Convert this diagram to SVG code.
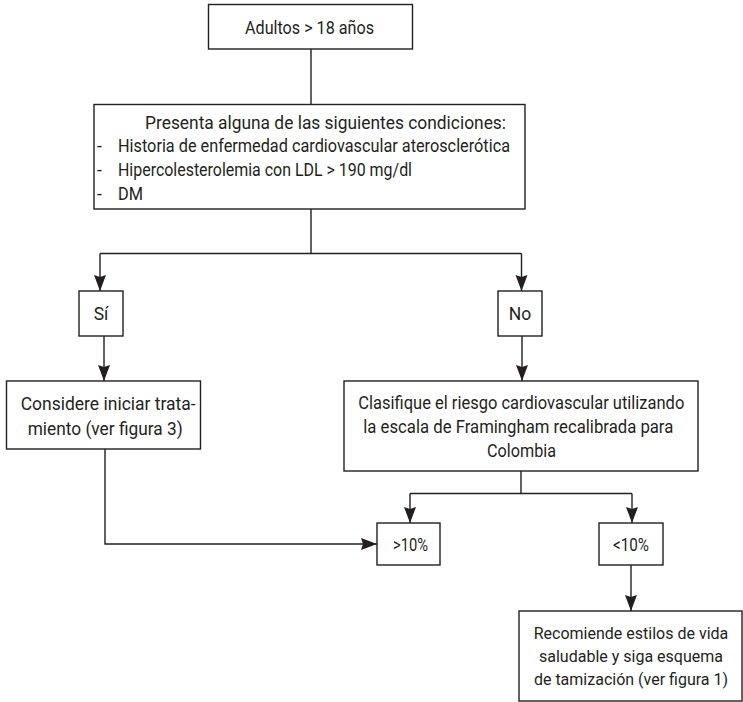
<svg xmlns="http://www.w3.org/2000/svg" width="743" height="702" viewBox="0 0 743 702">
<style>
  .box { fill: #ffffff; stroke: #231f20; stroke-width: 1.4; }
  .t { font-family: Roboto, "Open Sans", sans-serif; font-size: 17.5px; fill: #231f20; }
  .s { font-size: 16px; }
  .c { text-anchor: middle; }
  .conn { fill: none; stroke: #231f20; stroke-width: 1.4; }
</style>
<defs>
  <marker id="arr" markerUnits="userSpaceOnUse" markerWidth="17" markerHeight="13" refX="16" refY="6" orient="auto">
    <path d="M0,0 L16,6 L0,12 L2,6 Z" fill="#231f20"/>
  </marker>
</defs>
<rect width="743" height="702" fill="#ffffff"/>
<g id="connectors">
  <path class="conn" d="M311,49 V104.5"/>
  <path class="conn" d="M311,209 V253.5 M100,253.5 H521.5"/>
  <path class="conn" d="M100,253.5 V291" marker-end="url(#arr)"/>
  <path class="conn" d="M521.5,253.5 V291" marker-end="url(#arr)"/>
  <path class="conn" d="M104,336 V381" marker-end="url(#arr)"/>
  <path class="conn" d="M522,336 V381" marker-end="url(#arr)"/>
  <path class="conn" d="M521,471 V493.5 M410,493.5 H632"/>
  <path class="conn" d="M410,493.5 V523" marker-end="url(#arr)"/>
  <path class="conn" d="M632,493.5 V523" marker-end="url(#arr)"/>
  <path class="conn" d="M105,449 V544 H377" marker-end="url(#arr)"/>
  <path class="conn" d="M631,565 V611" marker-end="url(#arr)"/>
</g>
<g id="n-adultos">
  <rect class="box" x="208.5" y="4.5" width="204" height="44.5"/>
  <text class="t c" x="309.5" y="34" textLength="129" lengthAdjust="spacingAndGlyphs">Adultos &gt; 18 años</text>
</g>
<g id="n-condiciones">
  <rect class="box" x="94" y="104.5" width="431" height="104.5"/>
  <text class="t" x="145" y="128.5" textLength="361" lengthAdjust="spacingAndGlyphs">Presenta alguna de las siguientes condiciones:</text>
  <text class="t" x="97" y="152">-</text>
  <text class="t" x="118" y="152" textLength="392" lengthAdjust="spacingAndGlyphs">Historia de enfermedad cardiovascular aterosclerótica</text>
  <text class="t" x="97" y="176">-</text>
  <text class="t" x="118" y="176" textLength="294" lengthAdjust="spacingAndGlyphs">Hipercolesterolemia con LDL &gt; 190 mg/dl</text>
  <text class="t" x="97" y="199.5">-</text>
  <text class="t" x="118" y="199.5" textLength="25" lengthAdjust="spacingAndGlyphs">DM</text>
</g>
<g id="n-si">
  <rect class="box" x="79" y="291" width="44" height="45"/>
  <text class="t c" x="101" y="320">Sí</text>
</g>
<g id="n-no">
  <rect class="box" x="498" y="291" width="44" height="45"/>
  <text class="t c" x="520" y="320">No</text>
</g>
<g id="n-considere">
  <rect class="box" x="6.5" y="381" width="194" height="68"/>
  <text class="t" x="20.7" y="410" textLength="175" lengthAdjust="spacingAndGlyphs">Considere iniciar trata-</text>
  <text class="t" x="27.7" y="435" textLength="155" lengthAdjust="spacingAndGlyphs">miento (ver figura 3)</text>
</g>
<g id="n-clasifique">
  <rect class="box" x="344" y="381" width="354" height="90"/>
  <text class="t" x="358.3" y="409" textLength="326" lengthAdjust="spacingAndGlyphs">Clasifique el riesgo cardiovascular utilizando</text>
  <text class="t" x="363.3" y="433" textLength="310" lengthAdjust="spacingAndGlyphs">la escala de Framingham recalibrada para</text>
  <text class="t" x="487" y="457" textLength="69" lengthAdjust="spacingAndGlyphs">Colombia</text>
</g>
<g id="n-mayor10">
  <rect class="box" x="377" y="523" width="63" height="42"/>
  <text class="t" x="393" y="551" textLength="35" lengthAdjust="spacingAndGlyphs">&gt;10%</text>
</g>
<g id="n-menor10">
  <rect class="box" x="599" y="523" width="64" height="42"/>
  <text class="t" x="613" y="551" textLength="36" lengthAdjust="spacingAndGlyphs">&lt;10%</text>
</g>
<g id="n-recomiende">
  <rect class="box" x="519" y="611" width="223" height="90"/>
  <text class="t s c" x="631" y="639">Recomiende estilos de vida</text>
  <text class="t s c" x="631" y="662">saludable y siga esquema</text>
  <text class="t s c" x="631" y="685">de tamización (ver figura 1)</text>
</g>
</svg>
